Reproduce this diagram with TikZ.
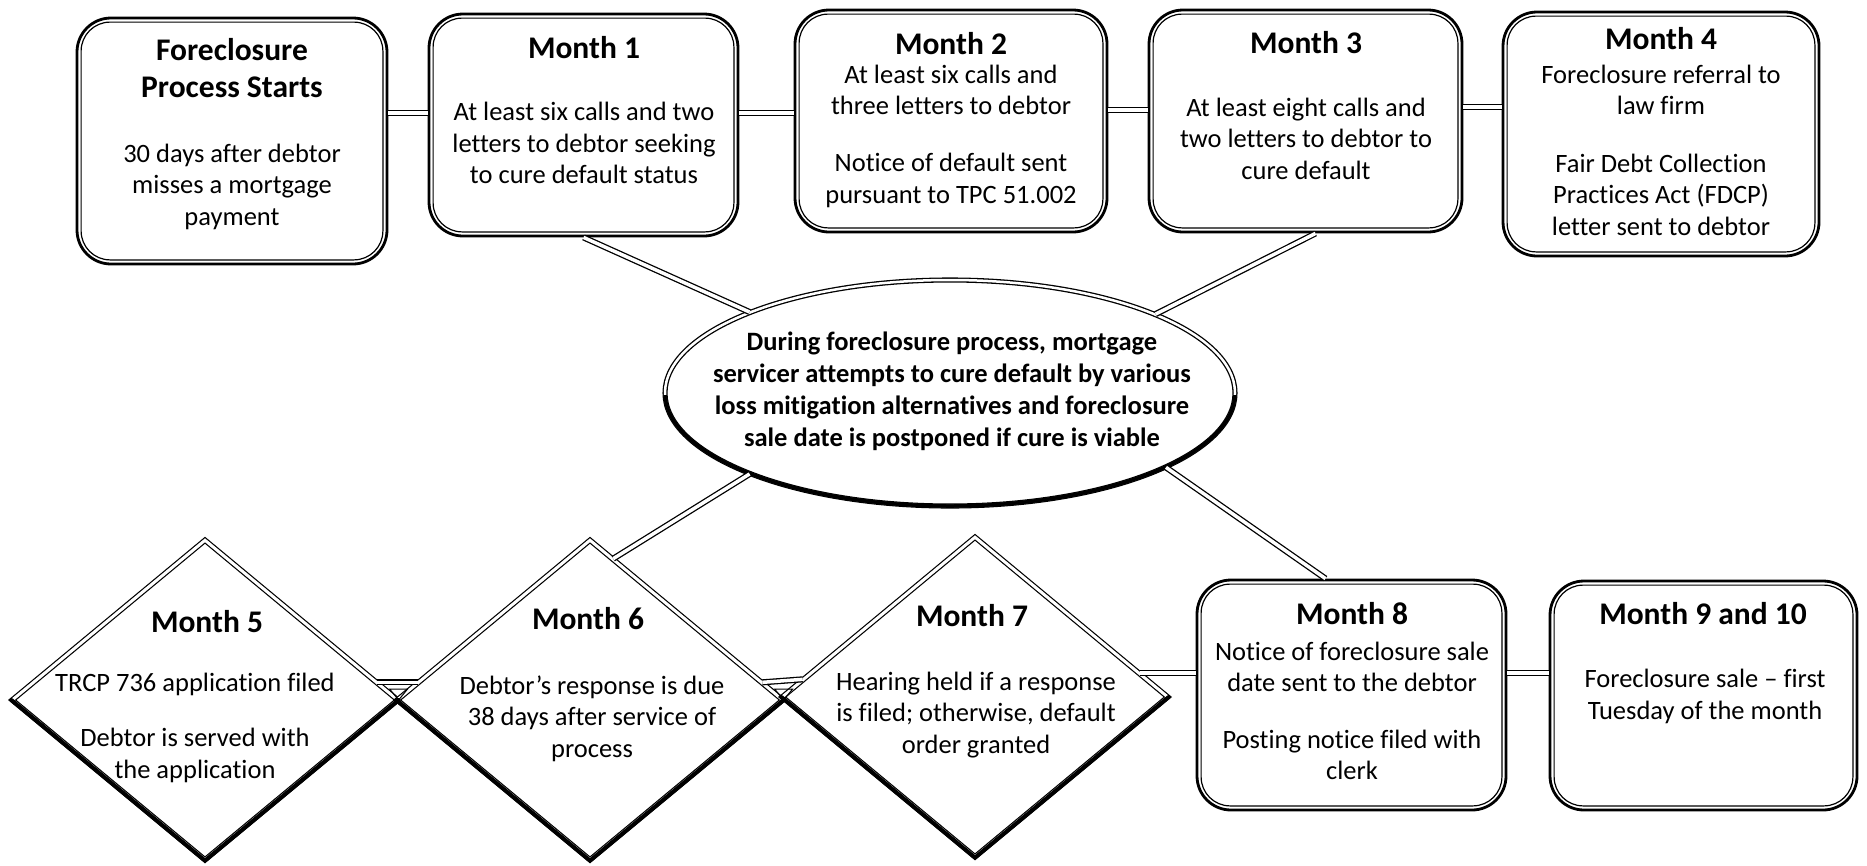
\documentclass[tikz,border=0pt]{standalone}
\usepackage{fontspec}
\setmainfont{Carlito}[Ligatures={TeX,NoCommon}]
\usetikzlibrary{shapes.geometric,calc}
\tikzset{
  mbox/.style={draw, line width=2.8pt, rounded corners=34pt, inner sep=0pt},
  innerline/.style={line width=1.2pt, rounded corners=29pt},
  conn/.style={draw, line width=1.3pt, double=white, double distance=3.5pt},
  dia/.style={diamond, draw, line width=1.2pt, double=white, double distance=3pt, minimum width=386pt, minimum height=320pt, inner sep=0pt},
  diaedge/.style={line width=4pt, line join=miter, line cap=round},
  ell/.style={ellipse, draw, line width=1.3pt, double=white, double distance=2.5pt, minimum width=570pt, minimum height=226pt, inner sep=0pt},
  ttl/.style={font=\fontsize{31.5}{37}\selectfont\bfseries, inner sep=0pt, align=center},
  txt/.style={font=\fontsize{26.5}{31.5}\selectfont, inner sep=0pt, align=center},
  etxt/.style={font=\fontsize{26.5}{32}\selectfont\bfseries, inner sep=0pt, align=center},
  tri/.style={line width=1pt},
}
\begin{document}
\begin{tikzpicture}[x=1pt,y=-1pt]
\path[use as bounding box, fill=white] (0,0) rectangle (1867,865);

% boxes
\node[mbox, minimum width=310pt, minimum height=246pt] (b0) at (232,141) {};
\node[mbox, minimum width=309pt, minimum height=222pt] (b1) at (583.5,125) {};
\node[mbox, minimum width=312pt, minimum height=222pt] (b2) at (951,121) {};
\node[mbox, minimum width=313pt, minimum height=222pt] (b3) at (1305.5,121) {};
\node[mbox, minimum width=316pt, minimum height=244pt] (b4) at (1661,134) {};
\node[mbox, minimum width=309pt, minimum height=230pt] (b8) at (1351.5,695) {};
\node[mbox, minimum width=307pt, minimum height=229pt] (b9) at (1703.5,695.5) {};
\foreach \n in {b0,b1,b2,b3,b4,b8,b9}
  \draw[innerline] ([xshift=5.5pt,yshift=-5.5pt]\n.north west) rectangle ([xshift=-5.5pt,yshift=5.5pt]\n.south east);

% ellipse
\node[ell] (e) at (950,393) {};
\begin{scope}
\clip (600,395) rectangle (1300,520);
\draw[line width=3.5pt] (e.center) ellipse [x radius=285, y radius=113];
\end{scope}

% diamonds
\node[dia] (d5) at (205,700) {};
\node[dia] (d6) at (590,700) {};
\node[dia] (d7) at (975,697) {};
\foreach \n in {d5,d6,d7}
  \draw[diaedge] (\n.west) -- (\n.south) -- (\n.east);

% connectors
\coordinate (c01) at (0,113);
\coordinate (c12) at (0,113);
\coordinate (c23) at (0,110);
\coordinate (c34) at (0,107);
\coordinate (c89) at (0,673);
\draw[conn] (b0.east |- c01) -- (b1.west |- c01);
\draw[conn] (b1.east |- c12) -- (b2.west |- c12);
\draw[conn] (b2.east |- c23) -- (b3.west |- c23);
\draw[conn] (b3.east |- c34) -- (b4.west |- c34);
\draw[conn] (b8.east |- c89) -- (b9.west |- c89);
\coordinate (d7c) at ($(d7.east)!0.15!(d7.north)$);
\draw[conn] (d7c) -- (d7c -| b8.west);
\coordinate (d56a) at ($(d5.east)!0.11!(d5.north)$);
\coordinate (d56b) at ($(d6.west)!0.11!(d6.north)$);
\draw[conn] (d56a) -- (d56b);
\coordinate (d67a) at ($(d6.east)!0.11!(d6.north)$);
\coordinate (d67b) at ($(d7.west)!0.11!(d7.north)$);
\draw[conn] (d67a) -- (d67b);
\draw[tri] ($(d5.east)+(-9,-11)$) -- ++(18,0) -- (d5.east) -- cycle;
\draw[tri] ($(d6.east)+(-9,-11)$) -- ++(18,0) -- (d6.east) -- cycle;

\coordinate (d6p) at ($(d6.north)!0.12!(d6.east)$);
\draw[conn] (b1.south) -- (e.158);
\draw[conn] ([xshift=10pt]b3.south) -- (e.21);
\draw[conn] (d6p) -- (e.202);
\draw[conn] ([xshift=-26pt]b8.north) -- (e.341);

% texts
\node[etxt] (et) at (952,391) {During foreclosure process, mortgage\\servicer attempts to cure default by various\\loss mitigation alternatives and foreclosure\\sale date is postponed if cure is viable};

\node[ttl] (t0) at (232,68.5) {Foreclosure\\Process Starts};
\node[txt] (x0) at (232,186.5) {30 days after debtor\\misses a mortgage\\payment};
\node[ttl] (t1) at (584,48) {Month 1};
\node[txt] (x1) at (584,143) {At least six calls and two\\letters to debtor seeking\\to cure default status};
\node[ttl] (t2) at (951,44) {Month 2};
\node[txt] (x2) at (951,136) {At least six calls and\\three letters to debtor\\[25.5pt]Notice of default sent\\pursuant to TPC 51.002};
\node[ttl] (t3) at (1306,43) {Month 3};
\node[txt] (x3) at (1306,138.5) {At least eight calls and\\two letters to debtor to\\cure default};
\node[ttl] (t4) at (1661,39) {Month 4};
\node[txt] (x4) at (1661,150) {Foreclosure referral to\\law firm\\[26pt]Fair Debt Collection\\Practices Act (FDCP)\\letter sent to debtor};
\node[ttl] (t5) at (207,622) {Month 5};
\node[txt] (x5) at (195,727.5) {TRCP 736 application filed\\[24pt]Debtor is served with\\the application};
\node[ttl] (t6) at (588,619) {Month 6};
\node[txt] (x6) at (592,718.5) {Debtor’s response is due\\38 days after service of\\process};
\node[ttl] (t7) at (972,616) {Month 7};
\node[txt] (x7) at (976,715) {Hearing held if a response\\is filed; otherwise, default\\order granted};
\node[ttl] (t8) at (1352,614) {Month 8};
\node[txt] (x8) at (1352,711) {Notice of foreclosure sale\\date sent to the debtor\\[25pt]Posting notice filed with\\clerk};
\node[ttl] (t9) at (1703,614) {Month 9 and 10};
\node[txt] (x9) at (1705,696.5) {Foreclosure sale – first\\Tuesday of the month};
\end{tikzpicture}
\end{document}
